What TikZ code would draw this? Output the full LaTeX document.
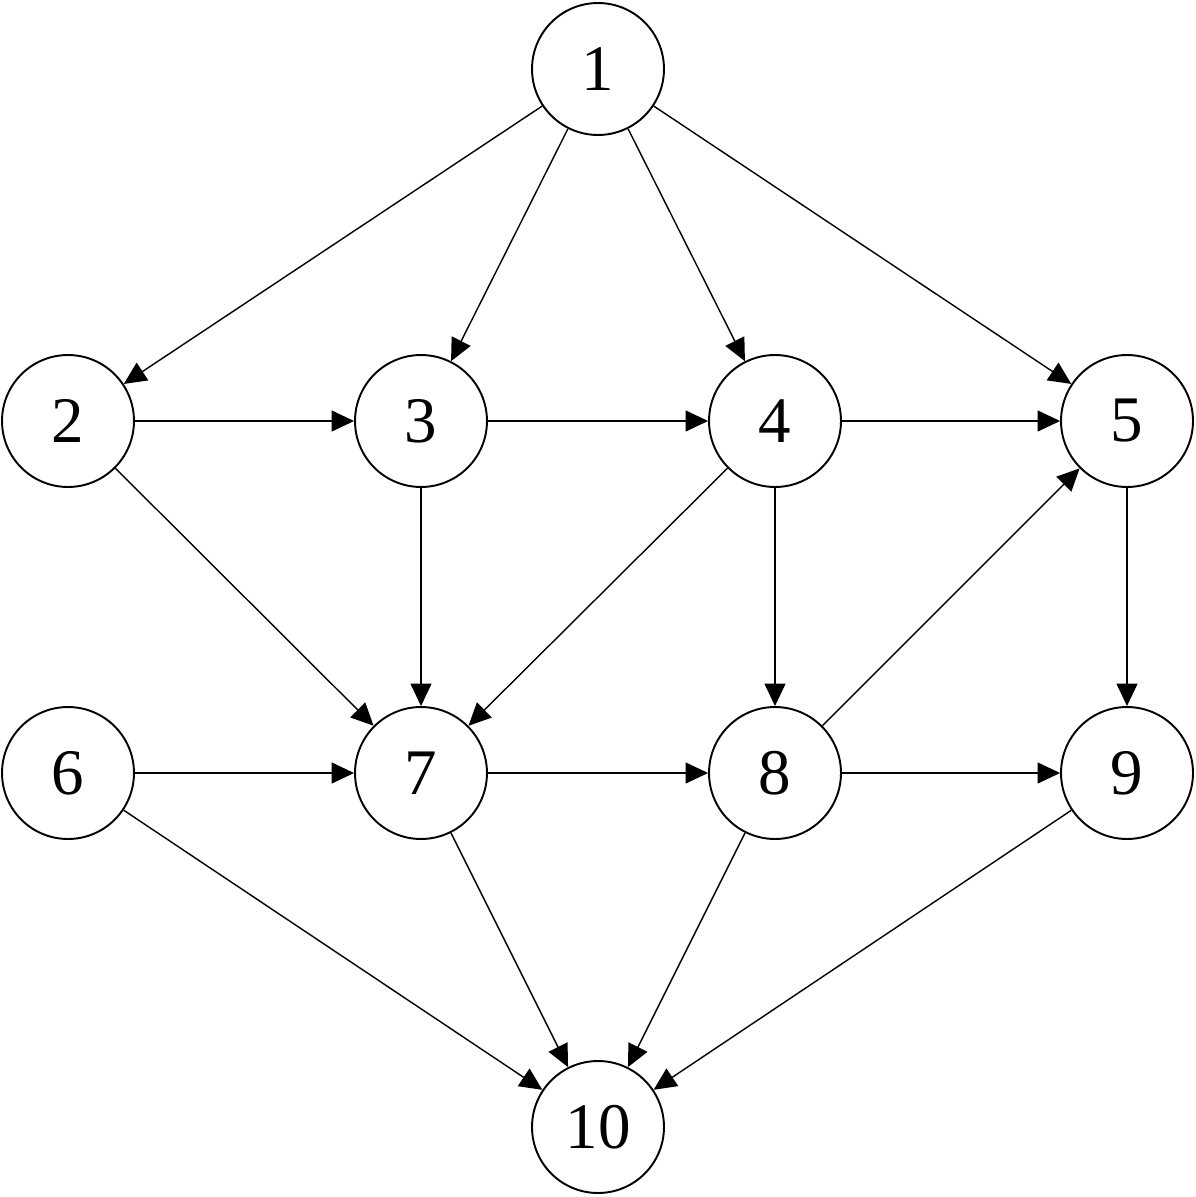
\documentclass[tikz,border=0pt]{standalone}
\usepackage{fontspec}
\setmainfont{Liberation Serif}
\usetikzlibrary{arrows.meta}
\begin{document}
\begin{tikzpicture}[x=0.02cm,y=-0.02cm,
  vert/.style={circle,draw,line width=1.1pt,minimum size=2.64cm,inner sep=0pt,font=\fontsize{37}{40}\selectfont},
  edge/.style={line width=0.8pt,-{Triangle[length=0.45cm,width=0.42cm]}}]
\useasboundingbox (0,0) rectangle (1196,1197);
\node[vert] (n1) at (598,69) {1};
\node[vert] (n2) at (68,421) {2};
\node[vert] (n3) at (421,421) {3};
\node[vert] (n4) at (775,421) {4};
\node[vert] (n5) at (1127,421) {5};
\node[vert] (n6) at (68,773) {6};
\node[vert] (n7) at (421,773) {7};
\node[vert] (n8) at (775,773) {8};
\node[vert] (n9) at (1127,773) {9};
\node[vert] (n10) at (598,1127) {10};
\draw[edge] (n1) -- (n2);
\draw[edge] (n1) -- (n3);
\draw[edge] (n1) -- (n4);
\draw[edge] (n1) -- (n5);
\draw[edge] (n2) -- (n3);
\draw[edge] (n3) -- (n4);
\draw[edge] (n4) -- (n5);
\draw[edge] (n2) -- (n7);
\draw[edge] (n3) -- (n7);
\draw[edge] (n4) -- (n7);
\draw[edge] (n4) -- (n8);
\draw[edge] (n8) -- (n5);
\draw[edge] (n5) -- (n9);
\draw[edge] (n6) -- (n7);
\draw[edge] (n7) -- (n8);
\draw[edge] (n8) -- (n9);
\draw[edge] (n6) -- (n10);
\draw[edge] (n7) -- (n10);
\draw[edge] (n8) -- (n10);
\draw[edge] (n9) -- (n10);
\end{tikzpicture}
\end{document}
